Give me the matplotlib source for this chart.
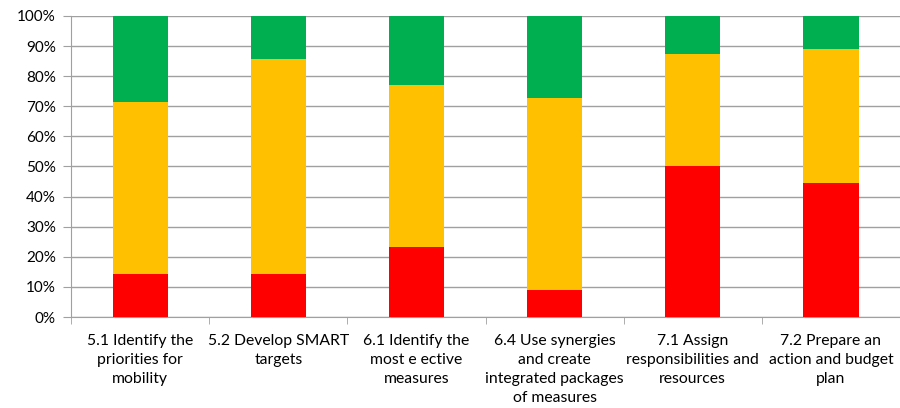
import numpy as np
import matplotlib.pyplot as plt
from matplotlib.ticker import PercentFormatter

categories = ['5.1 Identify the\npriorities for\nmobility',
              '5.2 Develop SMART\ntargets',
              '6.1 Identify the\nmost e ective\nmeasures',
              '6.4 Use synergies\nand create\nintegrated packages\nof measures',
              '7.1 Assign\nresponsibilities and\nresources',
              '7.2 Prepare an\naction and budget\nplan']
red = [14.3, 14.3, 23.1, 9.1, 50.0, 44.4]
yellow = [57.1, 71.4, 53.8, 63.6, 37.5, 44.5]
green = [28.6, 14.3, 23.1, 27.3, 12.5, 11.1]

plt.rcParams['font.family'] = ['Lato', 'DejaVu Sans']

fig = plt.figure(figsize=(9, 4.08), dpi=100)
ax = fig.add_axes([0.079, 0.223, 0.921, 0.738])

x = np.arange(len(categories))
w = 0.4
ax.bar(x, red, w, color='#FF0000', zorder=3)
ax.bar(x, yellow, w, bottom=red, color='#FFC000', zorder=3)
ax.bar(x, green, w, bottom=np.array(red) + np.array(yellow), color='#00B050', zorder=3)

ax.set_xlim(-0.5, len(categories) - 0.5)
ax.set_ylim(0, 100)
ax.set_yticks(np.arange(0, 101, 10))
ax.yaxis.set_major_formatter(PercentFormatter(decimals=0))
ax.grid(axis='y', color='#A0A0A0', linewidth=1, zorder=0)

ax.set_xticks(x)
ax.set_xticklabels(categories, fontsize=11.3, linespacing=1.45)
ax.set_xticks(np.arange(-0.5, len(categories)), minor=True)
ax.tick_params(axis='x', which='major', length=0, pad=12)
ax.tick_params(axis='x', which='minor', length=5, color='#A0A0A0', direction='out')
ax.tick_params(axis='y', length=6, color='#A0A0A0', labelsize=11, pad=5)

for s in ['top', 'right']:
    ax.spines[s].set_visible(False)
for s in ['left', 'bottom']:
    ax.spines[s].set_color('#A0A0A0')

fig.savefig('out.png', dpi=100)
